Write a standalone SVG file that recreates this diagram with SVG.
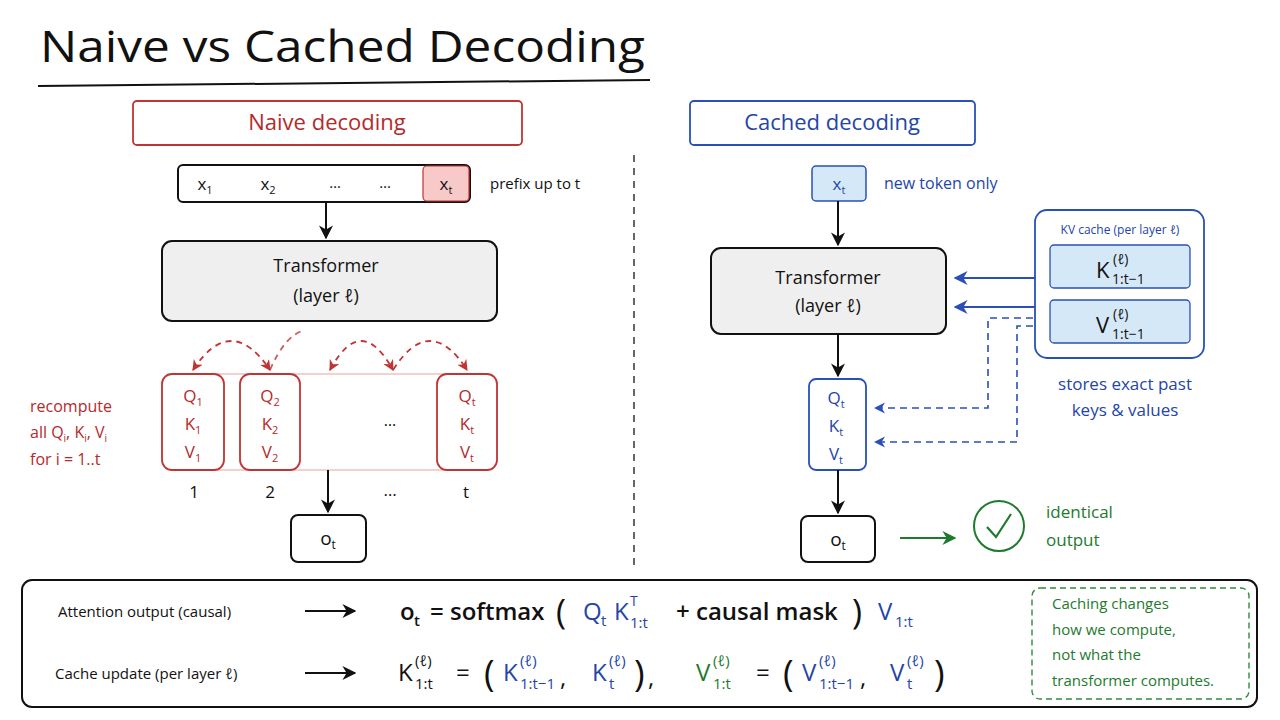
<svg xmlns="http://www.w3.org/2000/svg" width="1280" height="720" viewBox="0 0 1280 720">
<style>
text{font-family:"Open Sans","Liberation Sans",sans-serif;}
.red{fill:#b52a2a}
.blue{fill:#2445a8}
.green{fill:#1e7a2e}
.blk{fill:#111}
.c{text-anchor:middle}
.node{fill:#fff;stroke:#111;stroke-width:2}
.rbox{fill:#fff;stroke:#c03434;stroke-width:1.8}
.bbox{fill:#fff;stroke:#2a50b8;stroke-width:1.8}
.ln{fill:none;stroke:#111;stroke-width:2}
.bl{fill:none;stroke:#2a50b8;stroke-width:2}
.bd{fill:none;stroke:#2a50b8;stroke-width:1.6;stroke-dasharray:7 5}
.rd{fill:none;stroke:#c03434;stroke-width:1.8;stroke-dasharray:6 5}
</style>
<defs>
<marker id="ak" viewBox="0 0 10 10" refX="9" refY="5" markerWidth="7" markerHeight="7" orient="auto-start-reverse"><path d="M0,0 L10,5 L0,10 L3,5 z" fill="#111"/></marker>
<marker id="ab" viewBox="0 0 10 10" refX="9" refY="5" markerWidth="7" markerHeight="7" orient="auto-start-reverse"><path d="M0,0 L10,5 L0,10 L3,5 z" fill="#2a50b8"/></marker>
<marker id="ar" viewBox="0 0 10 10" refX="9" refY="5" markerWidth="6" markerHeight="6" orient="auto-start-reverse"><path d="M0,0 L10,5 L0,10 L3,5 z" fill="#c03434"/></marker>
<marker id="ag" viewBox="0 0 10 10" refX="9" refY="5" markerWidth="7" markerHeight="7" orient="auto-start-reverse"><path d="M0,0 L10,5 L0,10 L3,5 z" fill="#1e7a2e"/></marker>
</defs>
<rect width="1280" height="720" fill="#fff"/>
<g id="title">
<text x="40" y="62" font-size="44" class="blk" textLength="605" lengthAdjust="spacingAndGlyphs">Naive vs Cached Decoding</text>
<path d="M38,86 L650,80" class="ln" stroke-width="2.5"/>
</g>
<g id="naive-header"><rect x="133" y="101" width="389" height="44" rx="4" class="rbox"/><text x="327" y="130" font-size="22" class="red c">Naive decoding</text></g>
<g id="cached-header"><rect x="690" y="101" width="285" height="44" rx="4" class="bbox"/><text x="832" y="130" font-size="22" class="blue c">Cached decoding</text></g>
<path d="M634,155 L634,565" stroke="#333" stroke-width="1.5" stroke-dasharray="7 6"/>

<g id="tokens">
<rect x="178" y="165" width="292" height="37" rx="5" class="node" stroke-width="1.5"/>
<rect x="423" y="166" width="46" height="35" rx="4" fill="#f7c9c9" stroke="#c03434" stroke-width="1.2"/>
<text x="205" y="190" font-size="17" class="blk c">x<tspan font-size="11" dy="4">1</tspan></text>
<text x="268" y="190" font-size="17" class="blk c">x<tspan font-size="11" dy="4">2</tspan></text>
<text x="335" y="188" font-size="15" class="blk c">…</text>
<text x="385" y="188" font-size="15" class="blk c">…</text>
<text x="446" y="190" font-size="17" class="blk c">x<tspan font-size="11" dy="4">t</tspan></text>
<text x="490" y="189" font-size="15" class="blk">prefix up to t</text>
</g>
<g id="transformer-naive"><rect x="162" y="241" width="335" height="80" rx="10" fill="#efefef" stroke="#111" stroke-width="2"/>
<text x="326" y="272" font-size="18" class="blk c">Transformer</text><text x="326" y="302" font-size="18" class="blk c">(layer ℓ)</text></g>
<g id="qkv-naive">
<rect x="162" y="374" width="335" height="96" rx="10" fill="none" stroke="#e7a3a3" stroke-width="1"/>
<rect x="162" y="374" width="62" height="96" rx="10" class="rbox"/>
<rect x="240" y="374" width="60" height="96" rx="10" class="rbox"/>
<rect x="437" y="374" width="60" height="96" rx="10" class="rbox"/>
<g font-size="17" class="red c">
<text x="193" y="402">Q<tspan font-size="11" dy="4">1</tspan></text><text x="193" y="430">K<tspan font-size="11" dy="4">1</tspan></text><text x="193" y="458">V<tspan font-size="11" dy="4">1</tspan></text>
<text x="270" y="402">Q<tspan font-size="11" dy="4">2</tspan></text><text x="270" y="430">K<tspan font-size="11" dy="4">2</tspan></text><text x="270" y="458">V<tspan font-size="11" dy="4">2</tspan></text>
<text x="467" y="402">Q<tspan font-size="11" dy="4">t</tspan></text><text x="467" y="430">K<tspan font-size="11" dy="4">t</tspan></text><text x="467" y="458">V<tspan font-size="11" dy="4">t</tspan></text>
</g>
<text x="390" y="426" font-size="16" class="blk c">…</text>
<g font-size="17" class="blk c"><text x="194" y="498">1</text><text x="270" y="498">2</text><text x="390" y="496">…</text><text x="466" y="498">t</text></g>
<g font-size="16" class="red"><text x="30" y="412">recompute</text><text x="30" y="438">all Q<tspan font-size="10" dy="4">i</tspan><tspan dy="-4">, K</tspan><tspan font-size="10" dy="4">i</tspan><tspan dy="-4">, V</tspan><tspan font-size="10" dy="4">i</tspan></text><text x="30" y="465">for i = 1..t</text></g>
</g>
<g id="ot-naive"><rect x="291" y="515" width="75" height="47" rx="7" class="node"/><text x="328" y="545" font-size="19" class="blk c">o<tspan font-size="12" dy="4">t</tspan></text></g>

<g id="xt-cached"><rect x="812" y="166" width="54" height="35" rx="4" fill="#d5e8f8" stroke="#2a50b8" stroke-width="1.5"/><text x="839" y="190" font-size="17" class="blue c">x<tspan font-size="11" dy="4">t</tspan></text>
<text x="884" y="189" font-size="16" class="blue">new token only</text></g>
<g id="transformer-cached"><rect x="711" y="248" width="235" height="86" rx="10" fill="#efefef" stroke="#111" stroke-width="2"/>
<text x="828" y="284" font-size="18" class="blk c">Transformer</text><text x="828" y="312" font-size="18" class="blk c">(layer ℓ)</text></g>
<g id="qkv-cached"><rect x="809" y="379" width="57" height="91" rx="7" class="bbox"/>
<g font-size="17" class="blue c"><text x="836" y="404">Q<tspan font-size="11" dy="4">t</tspan></text><text x="836" y="432">K<tspan font-size="11" dy="4">t</tspan></text><text x="836" y="460">V<tspan font-size="11" dy="4">t</tspan></text></g></g>
<g id="ot-cached"><rect x="801" y="516" width="74" height="46" rx="7" class="node"/><text x="838" y="546" font-size="19" class="blk c">o<tspan font-size="12" dy="4">t</tspan></text></g>
<g id="kv-cache"><rect x="1035" y="210" width="169" height="148" rx="12" class="bbox"/>
<text x="1120" y="234" font-size="12" class="blue c">KV cache (per layer ℓ)</text>
<rect x="1050" y="245" width="140" height="43" rx="4" fill="#d5e8f8" stroke="#2a50b8" stroke-width="1.3"/>
<rect x="1050" y="300" width="140" height="43" rx="4" fill="#d5e8f8" stroke="#2a50b8" stroke-width="1.3"/>
<text x="1096" y="278" font-size="22" class="blk">K</text><text x="1113" y="264" font-size="14" class="blk">(ℓ)</text><text x="1112" y="284" font-size="14" class="blk">1:t−1</text>
<text x="1096" y="333" font-size="22" class="blk">V</text><text x="1113" y="319" font-size="14" class="blk">(ℓ)</text><text x="1112" y="339" font-size="14" class="blk">1:t−1</text>
<text x="1125" y="390" font-size="17" class="blue c">stores exact past</text><text x="1125" y="416" font-size="17" class="blue c">keys &amp; values</text></g>
<g id="identical"><circle cx="999" cy="526" r="25" fill="none" stroke="#1e7a2e" stroke-width="2"/><path d="M987,527 L996,537 L1011,514" fill="none" stroke="#1e7a2e" stroke-width="2.2"/>
<text x="1046" y="518" font-size="17" class="green">identical</text><text x="1046" y="546" font-size="17" class="green">output</text></g>

<g id="connectors">
<path d="M326,202 L326,238" class="ln" marker-end="url(#ak)"/>
<path d="M328,470 L328,512" class="ln" marker-end="url(#ak)"/>
<path d="M838,201 L838,245" class="ln" marker-end="url(#ak)"/>
<path d="M838,334 L838,376" class="ln" marker-end="url(#ak)"/>
<path d="M838,470 L838,513" class="ln" marker-end="url(#ak)"/>
<path d="M900,538 L955,538" fill="none" stroke="#1e7a2e" stroke-width="2" marker-end="url(#ag)"/>
<path d="M1035,278 L955,278" class="bl" marker-end="url(#ab)"/>
<path d="M1035,307 L955,307" class="bl" marker-end="url(#ab)"/>
<path d="M1033,318 L988,318 L988,408 L875,408" class="bd" marker-end="url(#ab)"/>
<path d="M1033,326 L1017,326 L1017,442 L875,442" class="bd" marker-end="url(#ab)"/>
<path d="M193,370 Q231,312 270,370" class="rd" marker-start="url(#ar)" marker-end="url(#ar)"/>
<path d="M270,370 Q285,335 305,330" class="rd" opacity="0.8"/>
<path d="M330,370 Q361,312 393,370" class="rd" marker-start="url(#ar)" marker-end="url(#ar)"/>
<path d="M393,370 Q430,312 467,370" class="rd" marker-end="url(#ar)"/>
</g>

<g id="formula-box">
<rect x="22" y="580" width="1235" height="127" rx="10" fill="#fff" stroke="#111" stroke-width="2"/>
<text x="58" y="617" font-size="15" class="blk">Attention output (causal)</text>
<text x="55" y="679" font-size="15" class="blk">Cache update (per layer ℓ)</text>
<path d="M305,611 L355,611" class="ln" marker-end="url(#ak)"/>
<path d="M305,673 L355,673" class="ln" marker-end="url(#ak)"/>
<g font-size="24" font-weight="600">
<text x="400" y="620" class="blk">o</text><text x="414" y="626" font-size="15" class="blk">t</text>
<text x="430" y="620" class="blk">= softmax</text><text x="556" y="624" font-size="34" font-weight="400" class="blk">(</text>
<text x="583" y="620" font-weight="400" class="blue">Q</text><text x="601" y="626" font-size="15" font-weight="400" class="blue">t</text>
<text x="614" y="620" font-weight="400" class="blue">K</text><text x="630" y="606" font-size="14" font-weight="400" class="blue">T</text><text x="630" y="628" font-size="15" font-weight="400" class="blue">1:t</text>
<text x="676" y="620" class="blk">+ causal mask</text><text x="852" y="624" font-size="34" font-weight="400" class="blk">)</text>
<text x="878" y="620" font-weight="400" class="blue">V</text><text x="895" y="627" font-size="15" font-weight="400" class="blue">1:t</text>
</g>
<g font-size="24">
<text x="398" y="681" class="blk">K</text><text x="415" y="666" font-size="15" class="blk">(ℓ)</text><text x="415" y="689" font-size="15" class="blk">1:t</text>
<text x="456" y="681" class="blk">=</text><text x="484" y="686" font-size="36" class="blk">(</text>
<text x="503" y="681" class="blue">K</text><text x="520" y="666" font-size="15" class="blue">(ℓ)</text><text x="520" y="689" font-size="15" class="blue">1:t−1</text><text x="560" y="686" class="blk">,</text>
<text x="592" y="681" class="blue">K</text><text x="609" y="666" font-size="15" class="blue">(ℓ)</text><text x="609" y="689" font-size="15" class="blue">t</text>
<text x="634" y="686" font-size="36" class="blk">)</text><text x="648" y="686" class="blk">,</text>
<text x="696" y="681" class="green">V</text><text x="713" y="666" font-size="15" class="green">(ℓ)</text><text x="713" y="689" font-size="15" class="green">1:t</text>
<text x="756" y="681" class="blk">=</text><text x="783" y="686" font-size="36" class="blk">(</text>
<text x="802" y="681" class="blue">V</text><text x="819" y="666" font-size="15" class="blue">(ℓ)</text><text x="819" y="689" font-size="15" class="blue">1:t−1</text><text x="860" y="686" class="blk">,</text>
<text x="890" y="681" class="blue">V</text><text x="907" y="666" font-size="15" class="blue">(ℓ)</text><text x="907" y="689" font-size="15" class="blue">t</text>
<text x="934" y="686" font-size="36" class="blk">)</text>
</g>
<rect x="1032" y="588" width="217" height="111" rx="8" fill="none" stroke="#2f8a3e" stroke-width="1.4" stroke-dasharray="6 4"/>
<g font-size="15" class="green"><text x="1052" y="609">Caching changes</text><text x="1052" y="635">how we compute,</text><text x="1052" y="660">not what the</text><text x="1052" y="686">transformer computes.</text></g>
</g>
</svg>
